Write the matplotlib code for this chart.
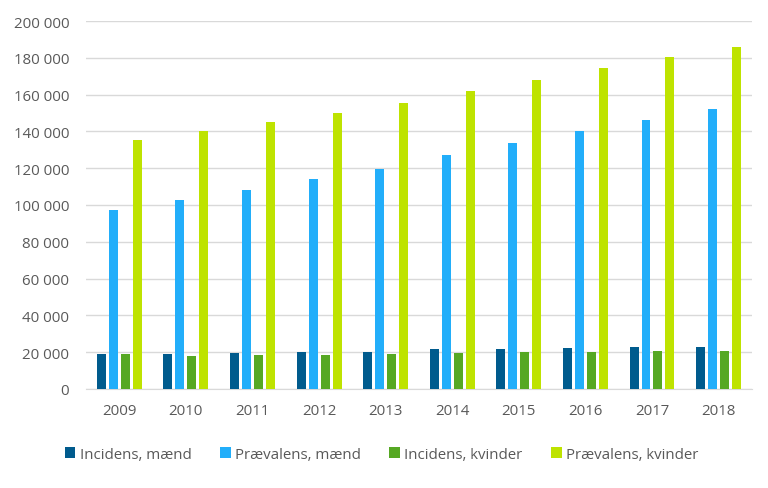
import numpy as np
import matplotlib.pyplot as plt
import matplotlib.ticker as mticker

# Data
years = ["2009", "2010", "2011", "2012", "2013", "2014", "2015", "2016", "2017", "2018"]
incidens_maend = [19000, 19000, 19600, 20200, 20200, 21800, 21800, 22200, 22700, 22700]
praevalens_maend = [97500, 102500, 108200, 113900, 119700, 127100, 133700, 140000, 146200, 152200]
incidens_kvinder = [19000, 18000, 18300, 18300, 18900, 19600, 20300, 20300, 20700, 20700]
praevalens_kvinder = [135200, 140000, 145100, 150200, 155400, 161800, 168000, 174200, 180300, 186000]

series = [
    ("Incidens, mænd", incidens_maend, "#005B8D"),
    ("Prævalens, mænd", praevalens_maend, "#22AEFA"),
    ("Incidens, kvinder", incidens_kvinder, "#56A823"),
    ("Prævalens, kvinder", praevalens_kvinder, "#BEE300"),
]

plt.rcParams['font.family'] = ['Open Sans', 'DejaVu Sans']
text_color = "#595959"

fig = plt.figure(figsize=(7.68, 4.89), dpi=100)
ax = fig.add_axes([0.112, 0.2025, 0.867, 0.7525])

x = np.arange(len(years))
step = 0.18
width = 0.135
for i, (label, vals, color) in enumerate(series):
    ax.bar(x + (i - 1.5) * step, vals, width=width, color=color, label=label, zorder=3)

ax.set_xlim(-0.5, len(years) - 0.5)
ax.set_ylim(0, 200000)
ax.set_yticks(range(0, 200001, 20000))
ax.yaxis.set_major_formatter(mticker.FuncFormatter(lambda v, p: f"{int(v):,}".replace(",", " ")))
ax.set_xticks(x)
ax.set_xticklabels(years)
ax.grid(axis='y', color="#D9D9D9", linewidth=1, zorder=0)
for s in ["top", "right", "left"]:
    ax.spines[s].set_visible(False)
ax.spines["bottom"].set_color("#D9D9D9")
ax.tick_params(axis='both', length=0, colors=text_color, labelsize=10.8)
ax.tick_params(axis='x', pad=10)
ax.tick_params(axis='y', pad=12)

fig.legend(loc='center', bbox_to_anchor=(0.497, 0.069), ncol=4, frameon=False,
           fontsize=10.8, handlelength=0.7, handleheight=0.7, handletextpad=0.3,
           columnspacing=1.9, labelcolor=text_color)

fig.savefig("out.png", dpi=100)
